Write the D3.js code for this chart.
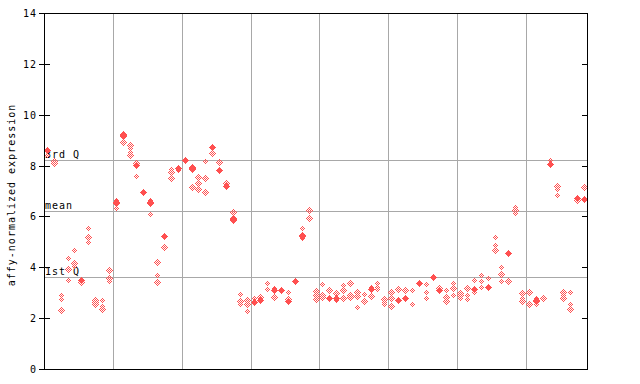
<!DOCTYPE html>
<meta charset="utf-8">
<script src="https://d3js.org/d3.v7.min.js"></script>
<style>
  body { margin: 0; background: #fff; }
  text { font-family: "DejaVu Sans Mono", monospace; font-size: 10px; fill: #000; }
</style>
<body>
<svg width="640" height="384"></svg>
<script>
// expression values per sample (several probes each), left to right
var expr = [
  [8.6, 8.4], [8.15, 8.1], [2.88, 2.74, 2.32], [4.35, 3.9, 3.5], [4.65, 4.15, 4.05],
  [3.47, 3.4], [5.54, 5.19, 4.99], [2.7, 2.62, 2.55], [2.7, 2.44, 2.33], [3.87, 3.54, 3.46],
  [6.61, 6.51, 6.33], [9.24, 9.15, 8.89], [8.79, 8.66, 8.53, 8.4], [8.07, 7.99, 7.57], [6.98, 6.89],
  [6.61, 6.52, 6.06], [4.19, 3.66, 3.41], [5.21, 4.79], [7.83, 7.74, 7.48], [7.9, 7.81],
  [8.2], [7.93, 7.83, 7.15], [7.54, 7.31, 7.07], [8.17, 7.51, 6.96], [8.72, 8.49],
  [8.13, 7.81], [7.31, 7.18], [6.17, 5.91, 5.83], [2.94, 2.65, 2.52], [2.68, 2.55, 2.28],
  [2.76, 2.63], [2.81, 2.69], [3.37, 3.11], [3.15, 3.07, 2.82], [3.08],
  [3.02, 2.72, 2.61], [3.44], [5.54, 5.24, 5.15], [6.22, 5.93], [3.04, 2.89, 2.72],
  [3.31, 2.91, 2.81], [3.07, 2.78], [2.98, 2.78, 2.69], [3.27, 3.07, 2.78], [3.37, 2.91, 2.82],
  [3.02, 2.85, 2.43], [2.94, 2.65], [3.2, 3.11, 2.85], [3.37, 3.2, 3.11], [2.72, 2.62, 2.52],
  [3.02, 2.76, 2.45], [3.11, 2.69], [3.07, 2.76], [3.07, 2.52], [3.37],
  [3.31, 3.02, 2.78], [3.6], [3.18, 3.04], [3.07, 2.81, 2.65], [3.37, 3.15, 2.91],
  [2.95, 2.89, 2.78], [3.15, 2.89, 2.72], [3.48, 3.11, 3.0], [3.66, 3.46, 3.22], [3.57, 3.2],
  [5.19, 4.86, 4.66], [4.0, 3.73, 3.44], [4.55, 3.46], [6.36, 6.22, 6.13], [2.98, 2.76, 2.65],
  [3.02, 2.52], [2.76, 2.65, 2.52], [2.78], [8.19, 8.03], [7.18, 7.05, 6.81],
  [3.02, 2.89, 2.78], [3.02, 2.52, 2.35], [6.71, 6.61], [7.15, 6.69, 6.61]
];
// solid markers: [sample index, value]
var solid = [
  [0, 8.6], [5, 3.47], [10, 6.55], [11, 9.2], [13, 8.0], [14, 6.95], [15, 6.55], [17, 5.21],
  [19, 7.87], [20, 8.2], [21, 7.88], [24, 8.72], [25, 7.81], [26, 7.18], [27, 5.88],
  [30, 2.63], [31, 2.69], [33, 3.1], [34, 3.08], [35, 2.65], [36, 3.44], [37, 5.2],
  [41, 2.78], [42, 2.78], [47, 3.11], [51, 2.69], [52, 2.76], [54, 3.37], [56, 3.6],
  [57, 3.1], [62, 3.11], [64, 3.2], [67, 4.55], [71, 2.7], [73, 8.05], [77, 6.7], [78, 6.65]
];
var groupSizes = [10, 10, 10, 10, 10, 10, 10, 9];
var yTicks = [0, 2, 4, 6, 8, 10, 12, 14];
var refLines = [
  {label: "3rd Q", value: 8.23},
  {label: "mean", value: 6.22},
  {label: "1st Q", value: 3.62}
];

var red = "#ff5050", grid = "#a8a8a8";
var pl = 44, pr = 588, pt = 13, pb = 369;

var svg = d3.select("svg");
var x = d3.scaleBand().domain(d3.range(expr.length)).range([pl, pr]);
var y = d3.scaleLinear().domain([0, 14]).range([pb, pt]);

// checkered fill for the open markers
var pat = svg.append("defs").append("pattern")
  .attr("id", "chk").attr("patternUnits", "userSpaceOnUse")
  .attr("width", 2).attr("height", 2);
pat.append("rect").attr("x", 0).attr("y", 0).attr("width", 1).attr("height", 1).attr("fill", red);
pat.append("rect").attr("x", 1).attr("y", 1).attr("width", 1).attr("height", 1).attr("fill", red);

// group separators
var bounds = d3.cumsum(groupSizes).slice(0, -1);
svg.append("g").selectAll("line").data(bounds).enter().append("line")
  .attr("x1", function(d){ return Math.round(x(d)) + 0.5; })
  .attr("x2", function(d){ return Math.round(x(d)) + 0.5; })
  .attr("y1", pt).attr("y2", pb)
  .attr("stroke", grid);

// quartile / mean lines
var ref = svg.append("g").selectAll("g").data(refLines).enter().append("g");
ref.append("line")
  .attr("x1", pl).attr("x2", pr)
  .attr("y1", function(d){ return Math.round(y(d.value)) + 0.5; })
  .attr("y2", function(d){ return Math.round(y(d.value)) + 0.5; })
  .attr("stroke", grid);

function diamond(cx, cy) {
  cx = Math.floor(cx) + 0.5; cy = Math.floor(cy) + 0.5;
  var p = "";
  for (var k = -3; k <= 3; k++) {
    var w = 7 - 2 * Math.abs(k);
    p += "M" + (cx - w / 2) + "," + (cy + k - 0.5) + "h" + w + "v1h" + (-w) + "Z";
  }
  return p;
}

var pts = [];
expr.forEach(function(vals, i){ vals.forEach(function(v){ pts.push([i, v]); }); });

svg.append("g").selectAll("path").data(pts).enter().append("path")
  .attr("d", function(d){ return diamond(x(d[0]) + x.bandwidth() / 2, y(d[1])); })
  .attr("fill", "url(#chk)");

svg.append("g").selectAll("path").data(solid).enter().append("path")
  .attr("d", function(d){ return diamond(x(d[0]) + x.bandwidth() / 2, y(d[1])); })
  .attr("fill", red);

ref.append("text")
  .attr("x", pl + 1)
  .attr("y", function(d){ return Math.round(y(d.value)) - 2; })
  .attr("letter-spacing", 1)
  .text(function(d){ return d.label; });

// frame
svg.append("rect")
  .attr("x", pl + 0.5).attr("y", pt + 0.5)
  .attr("width", pr - pl - 1).attr("height", pb - pt)
  .attr("fill", "none").attr("stroke", "#000");

// ticks
var ty = svg.append("g").selectAll("g").data(yTicks).enter().append("g");
ty.append("line")
  .attr("x1", pl - 5).attr("x2", pl + 6)
  .attr("y1", function(d){ return Math.round(y(d)) + 0.5; })
  .attr("y2", function(d){ return Math.round(y(d)) + 0.5; })
  .attr("stroke", "#000");
ty.append("line")
  .attr("x1", pr - 6).attr("x2", pr)
  .attr("y1", function(d){ return Math.round(y(d)) + 0.5; })
  .attr("y2", function(d){ return Math.round(y(d)) + 0.5; })
  .attr("stroke", "#000");
ty.append("text")
  .attr("x", pl - 7)
  .attr("y", function(d){ return y(d) + 4; })
  .attr("text-anchor", "end")
  .attr("letter-spacing", 1)
  .text(function(d){ return d; });

svg.append("text")
  .attr("transform", "translate(15," + ((pt + pb) / 2 + 4) + ") rotate(-90)")
  .attr("text-anchor", "middle")
  .attr("letter-spacing", 1)
  .text("affy-normalized expression");
</script>
</body>
